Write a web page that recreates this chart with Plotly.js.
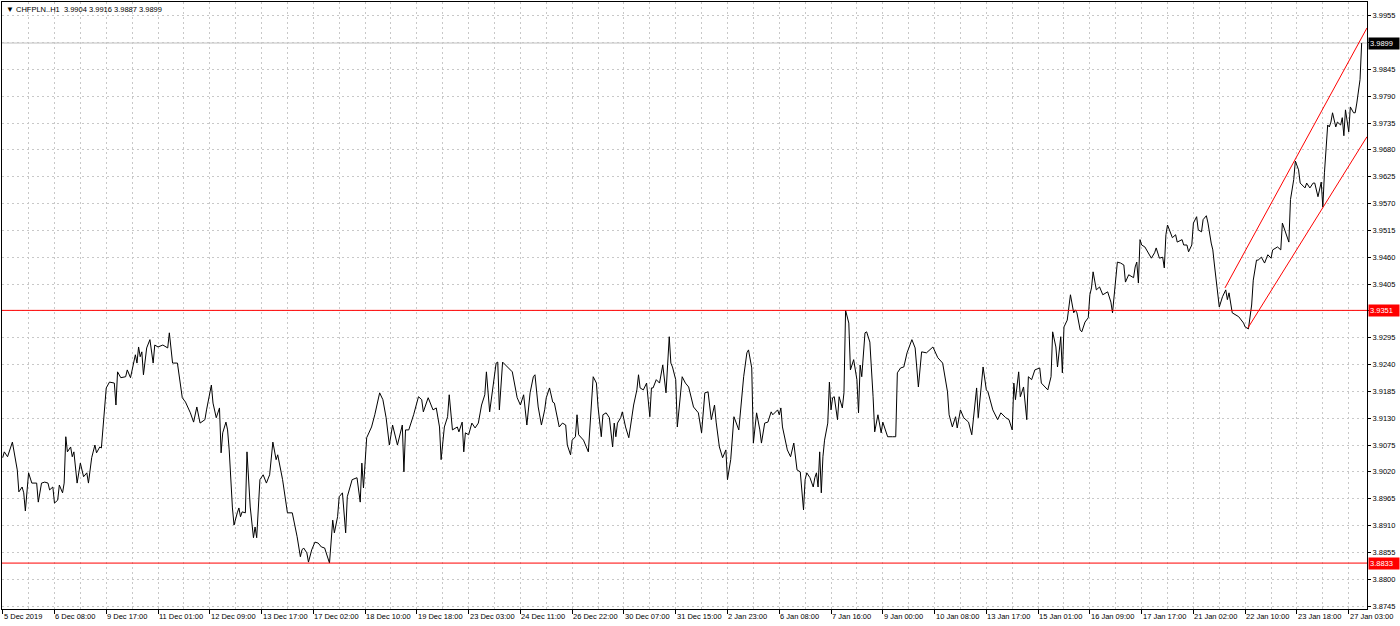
<!DOCTYPE html>
<html>
<head>
<meta charset="utf-8">
<script src="https://cdn.plot.ly/plotly-3.0.1.min.js"></script>
<style>
html,body{margin:0;padding:0;background:#fff;}
#chart{width:1400px;height:626px;}
</style>
</head>
<body>
<div id="chart"></div>
<script>
// ---- DATA (H1 bars, bar index from 5 Dec 2019 00:00) ----
const symbolTitle = "CHFPLN..H1";
const ohlcLast = ["3.9904", "3.9916", "3.9887", "3.9899"];

const barIndex = [
  0,1,3,6,9,10,12,13,14,16,
  18,21,22,24,26,28,29,31,32,34,
  35,37,38,39,40,42,43,44,46,48,
  50,52,53,55,57,58,60,61,64,66,
  69,70,71,73,76,77,79,82,83,84,
  85,86,87,89,91,93,94,96,99,102,
  103,105,108,111,113,116,118,120,122,125,
  126,129,130,132,134,135,136,138,139,140,
  142,143,145,146,147,148,150,151,153,155,
  156,157,159,161,163,165,167,169,170,173,
  176,179,182,184,185,186,188,189,191,193,
  195,197,199,201,202,204,205,207,208,210,
  212,213,216,219,221,222,223,225,228,230,
  231,233,235,237,239,241,244,247,248,249,
  251,254,257,259,260,263,266,268,270,
  271,273,275,276,278,281,282,284,285,286,
  288,290,292,294,296,298,299,301,303,305,
  306,307,309,312,315,318,320,322,324,326,
  328,329,331,333,335,336,338,340,341,344,
  346,348,349,351,352,354,355,356,359,362,
  365,367,368,370,371,373,375,377,378,379,
  380,382,383,385,387,388,390,392,393,394,
  396,398,400,401,402,404,406,408,410,412,
  413,414,416,417,420,422,424,427,430,432,
  434,436,438,440,441,443,445,447,448,450,
  452,455,457,458,460,461,463,464,466,468,
  469,471,473,475,476,479,480,481,482,485,
  487,489,491,493,495,496,497,499,501,502,
  503,504,505,506,507,508,510,511,512,513,
  514,516,517,519,520,521,523,524,526,528,
  529,530,531,533,534,536,538,539,541,543,
  544,547,
  550,552,553,555,557,559,562,564,566,568,
  571,575,578,581,584,585,587,589,590,592,
  594,597,599,600,602,603,606,608,609,612,
  615,617,620,622,624,625,626,628,629,631,
  633,634,636,638,641,642,646,648,649,651,
  652,654,655,656,658,660,662,663,664,666,
  667,669,671,672,673,674,676,678,680,683,
  685,686,689,691,693,694,696,699,700,701,
  702,703,704,706,709,710,712,713,715,717,
  718,719,720,722,723,725,726,729,730,732,
  733,735,736,738,739,741,742,744,745,747,
  748,749,751,752,754,756,757,758,760,762,
  764,767,768,770,772,773,775,776,778,780,
  782,784,785,788,790,791,794,795,796,798,
  799,801,802,804,805,806,808,810,811,813,
  815,816,817,819,820,821,822,824,825,827,
  828,829,830,832,833,835,836,837,838,839,
  840
];

const closePrice = [
  3.9049,3.9061,3.9051,3.9081,3.9024,3.8979,3.8989,3.8977,3.8940,3.9018,
  3.8997,3.8997,3.8958,3.8997,3.8999,3.8997,3.8983,3.8989,3.8956,3.8962,
  3.8993,3.8977,3.8997,3.9092,3.9061,3.9071,3.9051,3.9061,3.8997,3.9038,
  3.9010,3.9018,3.8997,3.9049,3.9075,3.9059,3.9071,3.9069,3.9192,3.9204,
  3.9202,3.9157,3.9225,3.9213,3.9215,3.9229,3.9213,3.9260,3.9243,3.9276,
  3.9256,3.9266,3.9219,3.9274,3.9291,3.9243,3.9280,3.9276,3.9280,3.9274,
  3.9305,3.9243,3.9243,3.9172,3.9163,3.9141,3.9122,3.9153,3.9120,3.9127,
  3.9147,3.9198,3.9161,3.9131,3.9151,3.9059,3.9100,3.9122,3.9106,3.9065,
  3.8946,3.8911,3.8936,3.8946,3.8928,3.8938,3.8936,3.9061,3.8948,3.8885,
  3.8907,3.8885,3.9004,3.9014,3.8997,3.9014,3.9081,3.9045,3.9055,3.9004,
  3.8936,3.8936,3.8887,3.8846,3.8860,3.8864,3.8854,3.8835,3.8860,3.8876,
  3.8874,3.8866,3.8864,3.8846,3.8833,3.8921,3.8895,3.8928,3.8969,3.8977,
  3.8895,3.8969,3.9004,3.9008,3.8958,3.9038,3.8987,3.9090,3.9112,3.9137,
  3.9151,3.9182,3.9168,3.9131,3.9075,3.9116,3.9075,3.9116,3.9020,3.9106,
  3.9106,3.9137,3.9174,3.9168,3.9143,3.9172,3.9147,3.9151,3.9112,
  3.9045,3.9112,3.9133,3.9178,3.9106,3.9112,3.9102,3.9122,3.9061,3.9100,
  3.9096,3.9120,3.9110,3.9120,3.9157,3.9178,3.9225,3.9143,3.9198,3.9243,
  3.9245,3.9147,3.9245,3.9235,3.9225,3.9172,3.9157,3.9178,3.9116,3.9182,
  3.9215,3.9219,3.9153,3.9116,3.9147,3.9172,3.9192,3.9163,3.9161,3.9112,
  3.9120,3.9116,3.9075,3.9055,3.9085,3.9092,3.9137,3.9096,3.9085,3.9061,
  3.9215,3.9202,3.9153,3.9092,3.9137,3.9141,3.9131,3.9071,3.9120,3.9092,
  3.9120,3.9131,3.9143,3.9112,3.9090,3.9112,3.9157,3.9188,3.9219,3.9192,
  3.9188,3.9202,3.9133,3.9192,3.9192,3.9209,3.9202,3.9239,3.9182,3.9297,
  3.9243,3.9235,3.9209,3.9112,3.9215,3.9202,3.9194,3.9153,3.9141,3.9100,
  3.9182,3.9184,3.9127,3.9157,3.9122,3.9071,3.9049,3.9065,3.9004,3.9045,
  3.9133,3.9106,3.9184,3.9215,3.9264,3.9270,3.9233,3.9079,3.9141,3.9106,
  3.9079,3.9120,3.9122,3.9143,3.9137,3.9147,3.9137,3.9151,3.9112,3.9065,
  3.9051,3.9079,3.9024,3.9020,3.8942,3.9004,3.9018,3.9008,3.8989,3.9008,
  3.9018,3.8989,3.9061,3.8977,3.9051,3.9085,3.9120,3.9204,3.9147,3.9172,
  3.9174,3.9127,3.9174,3.9151,3.9182,3.9351,3.9325,3.9229,3.9250,3.9209,
  3.9141,3.9239,3.9215,3.9305,3.9307,3.9286,3.9174,3.9102,3.9137,3.9100,
  3.9122,3.9092,
  3.9092,3.9092,3.9223,3.9233,3.9235,3.9264,3.9291,3.9274,3.9194,3.9266,
  3.9264,3.9276,3.9254,3.9243,3.9184,3.9137,3.9112,3.9133,3.9110,3.9147,
  3.9131,3.9122,3.9096,3.9127,3.9192,3.9131,3.9235,3.9188,3.9184,3.9147,
  3.9127,3.9141,3.9131,3.9127,3.9106,3.9202,3.9168,3.9225,3.9174,3.9194,
  3.9127,3.9215,3.9209,3.9229,3.9233,3.9202,3.9188,3.9215,3.9307,3.9276,
  3.9235,3.9297,3.9223,3.9317,3.9331,3.9383,3.9346,3.9352,3.9346,3.9311,
  3.9307,3.9327,3.9336,3.9383,3.9397,3.9430,3.9393,3.9399,3.9383,3.9389,
  3.9368,3.9346,3.9450,3.9448,3.9444,3.9409,3.9424,3.9418,3.9440,3.9450,
  3.9407,3.9496,3.9485,3.9481,3.9465,3.9458,3.9469,3.9479,3.9458,3.9460,
  3.9438,3.9506,3.9526,3.9506,3.9500,3.9506,3.9491,3.9496,3.9485,3.9485,
  3.9471,3.9485,3.9530,3.9543,3.9516,3.9512,3.9537,3.9545,3.9530,3.9489,
  3.9475,3.9444,3.9387,3.9358,3.9379,3.9393,3.9373,3.9387,3.9346,3.9342,
  3.9338,3.9325,3.9317,3.9313,3.9362,3.9413,3.9454,3.9454,3.9460,3.9448,
  3.9465,3.9458,3.9475,3.9481,3.9475,3.9530,3.9502,3.9491,3.9578,3.9619,
  3.9657,3.9639,3.9612,3.9604,3.9602,3.9612,3.9602,3.9612,3.9612,3.9584,
  3.9614,3.9563,3.9633,3.9731,3.9727,3.9737,3.9756,3.9727,3.9737,3.9731,
  3.9746,3.9709,3.9762,3.9717,3.9768,3.9756,3.9756,3.9776,3.9807,3.9824,
  3.9899
];

// trend channel (two trend lines), endpoints: [bar, price]
const upperTrendBars = [755.5, 843.3];
const upperTrendPrices = [3.9397, 3.9930];
const lowerTrendBars = [769.7, 843.3];
const lowerTrendPrices = [3.9315, 3.9707];

// horizontal levels
const redLevels = [3.9351, 3.8833];
const bidLevel = 3.9899;

// time axis labels (every 32 H1 bars)
const timeTickBars = [0,32,64,96,128,160,192,224,256,288,320,352,384,416,448,480,512,544,576,608,640,672,704,736,768,800,832];
const timeLabels = ["5 Dec 2019","6 Dec 08:00","9 Dec 17:00","11 Dec 01:00","12 Dec 09:00","13 Dec 17:00","17 Dec 02:00","18 Dec 10:00","19 Dec 18:00","23 Dec 03:00","24 Dec 11:00","26 Dec 22:00","30 Dec 07:00","31 Dec 15:00","2 Jan 23:00","6 Jan 08:00","7 Jan 16:00","9 Jan 00:00","10 Jan 08:00","13 Jan 17:00","15 Jan 01:00","16 Jan 09:00","17 Jan 17:00","21 Jan 02:00","22 Jan 10:00","23 Jan 18:00","27 Jan 03:00"];

// price axis ticks
const priceTicks = [3.8745,3.8800,3.8855,3.8910,3.8965,3.9020,3.9075,3.9130,3.9185,3.9240,3.9295,3.9350,3.9405,3.9460,3.9515,3.9570,3.9625,3.9680,3.9735,3.9790,3.9845,3.9900,3.9955];
const priceTickText = ["3.8745","3.8800","3.8855","3.8910","3.8965","3.9020","3.9075","3.9130","3.9185","3.9240","3.9295","","3.9405","3.9460","3.9515","3.9570","3.9625","3.9680","3.9735","3.9790","3.9845","","3.9955"];

// ---- CHART ----
const FONT = "Liberation Sans, Arial, sans-serif";
const FS = 7.5;
const gridColor = "#c8c8c8";
const gridDash = "2px,3px";

const traces = [
  {x: barIndex, y: closePrice, type: "scatter", mode: "lines",
   line: {color: "#000000", width: 1}, hoverinfo: "skip"},
  {x: upperTrendBars, y: upperTrendPrices, type: "scatter", mode: "lines",
   line: {color: "#ff0000", width: 1}, hoverinfo: "skip"},
  {x: lowerTrendBars, y: lowerTrendPrices, type: "scatter", mode: "lines",
   line: {color: "#ff0000", width: 1}, hoverinfo: "skip"}
];

const shapes = [
  {type: "line", xref: "paper", x0: 0, x1: 1, yref: "y", y0: bidLevel, y1: bidLevel,
   line: {color: "#c0c0c0", width: 1}, layer: "below"}
].concat(redLevels.map(v => ({
  type: "line", xref: "paper", x0: 0, x1: 1, yref: "y", y0: v, y1: v,
  line: {color: "#ff0000", width: 1}, layer: "above"
})));

const annotations = [];
timeLabels.forEach((t, i) => {
  annotations.push({
    x: timeTickBars[i], xref: "x", y: 0, yref: "paper",
    xanchor: "left", yanchor: "top", xshift: -1, yshift: -1,
    text: t, showarrow: false, font: {family: FONT, size: FS, color: "#000"}
  });
});
redLevels.forEach(v => {
  annotations.push({
    x: 1, xref: "paper", y: v, yref: "y", xanchor: "left", yanchor: "middle", xshift: 1,
    text: v.toFixed(4), showarrow: false, bgcolor: "#ff0000", borderpad: 1,
    width: 28, align: "left",
    font: {family: FONT, size: FS, color: "#ffffff"}
  });
});
annotations.push({
  x: 1, xref: "paper", y: bidLevel, yref: "y", xanchor: "left", yanchor: "middle", xshift: 1,
  text: bidLevel.toFixed(4), showarrow: false, bgcolor: "#000000", borderpad: 1,
  width: 28, align: "left",
  font: {family: FONT, size: FS, color: "#ffffff"}
});
annotations.push({
  x: 0, xref: "paper", y: 1, yref: "paper", xanchor: "left", yanchor: "top",
  xshift: 2, yshift: -1, showarrow: false, align: "left",
  text: '<span style="font-size:8px">\u25BC</span>\u00a0' + symbolTitle + '\u00a0\u00a0' + ohlcLast.join(' '),
  font: {family: FONT, size: FS, color: "#000"}
});

const layout = {
  width: 1400, height: 626,
  margin: {l: 2, r: 33, t: 2, b: 17, pad: 0},
  paper_bgcolor: "#ffffff", plot_bgcolor: "#ffffff",
  showlegend: false,
  font: {family: FONT, size: FS, color: "#000"},
  xaxis: {
    range: [-0.43, 843.3], tickmode: "array", tickvals: timeTickBars,
    showticklabels: false, ticks: "outside", ticklen: 4, tickcolor: "#000", tickwidth: 1,
    showgrid: true, gridcolor: gridColor, griddash: gridDash, gridwidth: 1,
    minor: {tickmode: "linear", tick0: 16, dtick: 32, showgrid: true,
            gridcolor: gridColor, griddash: gridDash, gridwidth: 1, ticks: ""},
    showline: true, mirror: true, linecolor: "#000", linewidth: 1, zeroline: false, fixedrange: true
  },
  yaxis: {
    side: "right", range: [3.87389, 3.99831],
    tickmode: "array", tickvals: priceTicks, ticktext: priceTickText,
    ticks: "outside", ticklen: 3, tickcolor: "#000", tickwidth: 1,
    tickfont: {family: FONT, size: FS, color: "#000"},
    showgrid: true, gridcolor: gridColor, griddash: gridDash, gridwidth: 1,
    showline: true, mirror: true, linecolor: "#000", linewidth: 1, zeroline: false, fixedrange: true
  },
  shapes: shapes,
  annotations: annotations
};

Plotly.newPlot("chart", traces, layout, {staticPlot: true, displayModeBar: false});
</script>
</body>
</html>
